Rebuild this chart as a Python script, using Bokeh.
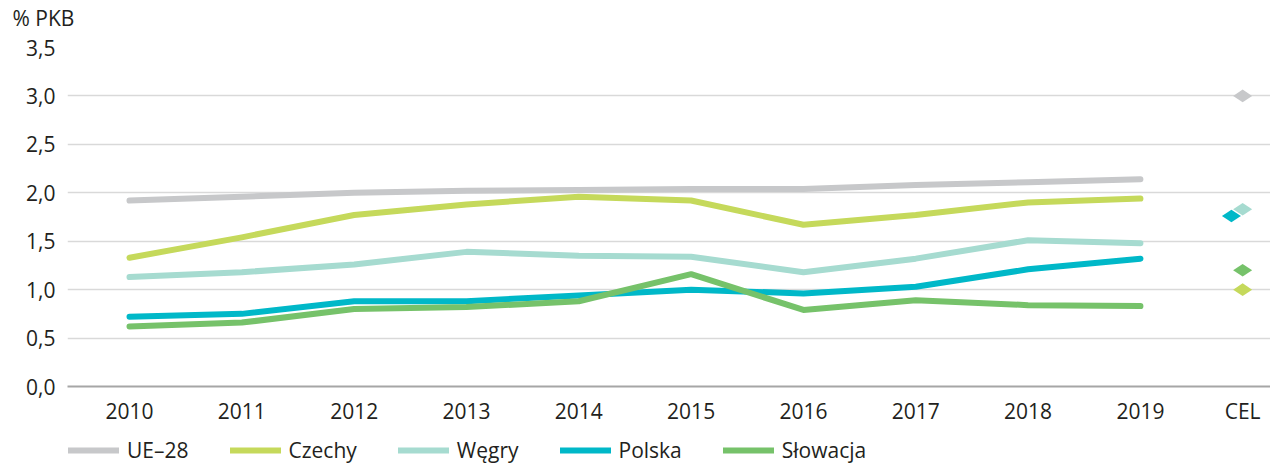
import math
from bokeh.plotting import figure
from bokeh.layouts import column
from bokeh.models import FixedTicker, Legend, LegendItem, Range1d
from bokeh.embed import file_html
from bokeh.resources import INLINE

# ---- data ----
years = ["2010", "2011", "2012", "2013", "2014", "2015", "2016", "2017", "2018", "2019"]
target_category = "CEL"
series_names = ["UE–28", "Czechy", "Węgry", "Polska", "Słowacja"]

ue28 = [1.92, 1.96, 2.00, 2.02, 2.03, 2.04, 2.04, 2.08, 2.11, 2.14]
czechy = [1.33, 1.54, 1.77, 1.88, 1.96, 1.92, 1.67, 1.77, 1.90, 1.94]
wegry = [1.13, 1.18, 1.26, 1.39, 1.35, 1.34, 1.18, 1.32, 1.51, 1.48]
polska = [0.72, 0.75, 0.88, 0.88, 0.94, 1.00, 0.96, 1.03, 1.21, 1.32]
slowacja = [0.62, 0.66, 0.80, 0.82, 0.88, 1.16, 0.79, 0.89, 0.84, 0.83]

targets = [3.0, 1.0, 1.83, 1.76, 1.2]  # CEL, same order as series_names

y_ticks = [0.0, 0.5, 1.0, 1.5, 2.0, 2.5, 3.0, 3.5]
y_tick_labels = ["0,0", "0,5", "1,0", "1,5", "2,0", "2,5", "3,0", "3,5"]
y_title = "% PKB"

# ---- styles ----
colors = ["#c7c8ca", "#c5d95b", "#a6dbd0", "#00b8c8", "#76c26a"]
target_dodge = [0.0, 0.0, 0.0, -0.1, 0.0]
FONT = "Open Sans"
TEXT = "#231f20"

xs = list(range(len(years)))
cel_x = len(years) - 1 + 0.91

# header strip with the unit label (as a title)
ph = figure(width=1270, height=34, output_backend="svg", toolbar_location=None,
            x_axis_location=None, y_axis_location=None, min_border=0,
            outline_line_color=None, x_range=Range1d(0, 1), y_range=Range1d(0, 1),
            title=y_title)
ph.xgrid.grid_line_color = None
ph.ygrid.grid_line_color = None
ph.title.align = "left"
ph.title.offset = -55
ph.title.standoff = 2
ph.title.text_font = FONT
ph.title.text_font_size = "21px"
ph.title.text_font_style = "normal"
ph.title.text_color = TEXT

# main chart
p = figure(frame_width=1203, frame_height=339, output_backend="svg", toolbar_location=None,
           x_range=(-0.552, 10.158), y_range=(0, 3.5),
           min_border_left=67, min_border_right=0, min_border_top=13, min_border_bottom=48,
           outline_line_color=None)

all_series = [ue28, czechy, wegry, polska, slowacja]
for vals, col in zip(all_series, colors):
    p.line(xs, vals, line_color=col, line_width=6, line_cap="round", line_join="round")

draw_order = [0, 1, 2, 4, 3]
for i in draw_order:
    p.scatter([cel_x + target_dodge[i]], [targets[i]], marker="diamond", size=19,
              angle=math.pi / 2, fill_color=colors[i], line_color=None)

p.xaxis.ticker = FixedTicker(ticks=xs + [cel_x])
p.xaxis.major_label_overrides = {**{x: y for x, y in zip(xs, years)}, cel_x: target_category}
p.xaxis.axis_line_color = "#a6a6a6"
p.xaxis.axis_line_width = 2
p.xaxis.major_tick_line_color = None
p.xaxis.minor_tick_line_color = None
p.xaxis.major_label_standoff = 4
p.xaxis.major_label_text_font = FONT
p.xaxis.major_label_text_font_size = "21px"
p.xaxis.major_label_text_color = TEXT

p.yaxis.ticker = FixedTicker(ticks=y_ticks)
p.yaxis.major_label_overrides = {t: l for t, l in zip(y_ticks, y_tick_labels)}
p.yaxis.axis_line_color = None
p.yaxis.major_tick_line_color = None
p.yaxis.minor_tick_line_color = None
p.yaxis.major_label_standoff = 6
p.yaxis.major_label_text_font = FONT
p.yaxis.major_label_text_font_size = "21px"
p.yaxis.major_label_text_color = TEXT

p.xgrid.grid_line_color = None
p.ygrid.grid_line_color = "#d9d9d9"
p.ygrid.grid_line_width = 1.5

# legend strip below the chart
pl = figure(width=1270, height=30, output_backend="svg", toolbar_location=None,
            x_axis_location=None, y_axis_location=None, min_border=0,
            outline_line_color=None, x_range=Range1d(0, 1), y_range=Range1d(0, 1))
pl.xgrid.grid_line_color = None
pl.ygrid.grid_line_color = None
items = []
for name, col in zip(series_names, colors):
    r = pl.line([5, 6], [5, 6], line_color=col, line_width=6, line_cap="round")
    items.append(LegendItem(label=name, renderers=[r]))

legend = Legend(items=items, orientation="horizontal", location=(1, 0),
                label_text_font=FONT, label_text_font_size="21px", label_text_color=TEXT,
                glyph_width=51, glyph_height=24, label_height=24, label_standoff=8, spacing=41,
                padding=0, margin=0, border_line_color=None, background_fill_alpha=0)
pl.add_layout(legend, "center")

layout = column(ph, p, pl, spacing=0)
open("out.html", "w").write(file_html(layout, INLINE))
